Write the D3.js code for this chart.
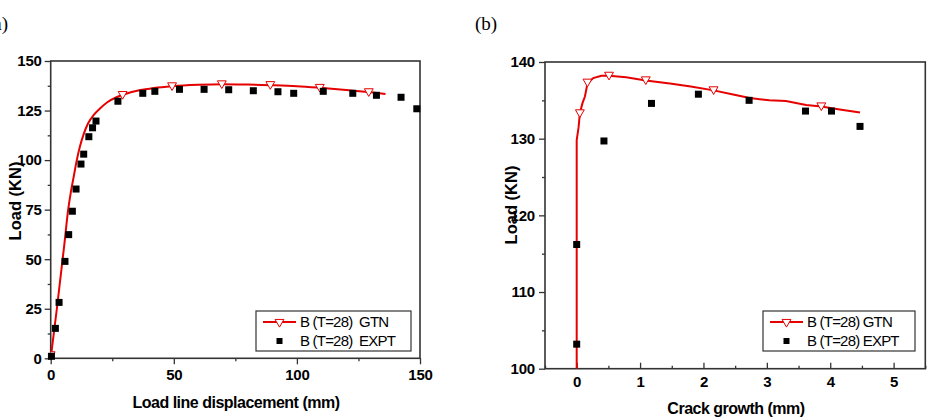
<!DOCTYPE html>
<html>
<head>
<meta charset="utf-8">
<script src="https://cdn.jsdelivr.net/npm/d3@7"></script>
<style>
body { margin: 0; background: #fff; }
svg text { font-family: "Liberation Sans", Arial, sans-serif; }
</style>
</head>
<body>
<svg id="chart" width="932" height="420"></svg>
<script>
// ---- panel (a): load vs load line displacement ----
var gtnA = [[0,0],[2.5,25],[5.5,57],[7.1,75],[8.2,84],[9.4,92],[10.6,100],[11.9,107],[13.5,113.5],
  [15.2,118.6],[17.5,122.8],[20,126],[23,129.2],[26.7,131.7],[30,133.2],[36,135.2],[42,136.4],
  [49.3,137.3],[60,138],[69.5,138.3],[80,138.1],[89.2,137.8],[100,137.3],[109.3,136.5],
  [120,135.4],[129.2,134.3],[136,133.3]];
var gtnAMarkers = [[0,1.5],[29.2,132.8],[49.3,137.2],[69.5,138.2],[89.2,137.8],[109.3,136.4],[129.2,134.2]];
var exptA = [[0.3,1],[1.9,15.1],[3.4,28.2],[5.8,48.9],[7.3,62.4],[8.8,74.2],[10.3,85.4],[12.3,98],
  [13.4,103],[15.5,111.8],[17,116.3],[18.4,119.7],[27.3,129.7],[37.4,133.7],[42.3,134.7],
  [52.3,135.7],[62.3,135.7],[72.3,135.5],[82.3,135],[92.3,134.5],[98.7,133.7],[110.7,134.7],
  [122.7,133.7],[132.3,132.7],[142.3,131.7],[148.7,125.9]];
var ticksAx = [0, 50, 100, 150];
var ticksAy = [0, 25, 50, 75, 100, 125, 150];

// ---- panel (b): load vs crack growth ----
var gtnB = [[0,100],[0,129.8],[0.03,131.5],[0.05,133.3],[0.09,134.6],[0.13,135.5],[0.17,137.2],
  [0.26,137.9],[0.39,138.2],[0.51,138.2],[0.78,138],[1.09,137.6],[1.47,137.2],[1.8,136.8],
  [2.16,136.3],[2.45,135.8],[2.73,135.3],[3.04,135],[3.3,134.9],[3.62,134.4],[3.86,134.2],
  [4.15,133.8],[4.47,133.4]];
var gtnBMarkers = [[0.05,133.3],[0.17,137.3],[0.51,138.2],[1.09,137.6],[2.16,136.3],[3.86,134.2]];
var exptB = [[0,103.2],[0,116.2],[0.43,129.7],[1.18,134.6],[1.92,135.8],[2.72,135],[3.61,133.6],
  [4.02,133.6],[4.47,131.6]];
var ticksBx = [0, 1, 2, 3, 4, 5];
var ticksBy = [100, 110, 120, 130, 140];

var svg = d3.select("#chart");
var red = "#e60000";

function panel(o) {
  var x = d3.scaleLinear().domain(o.xd).range([o.left, o.right]);
  var y = d3.scaleLinear().domain(o.yd).range([o.bottom, o.top]);
  var g = svg.append("g");

  var clipId = "clip" + o.id;
  g.append("clipPath").attr("id", clipId).append("rect")
    .attr("x", o.left).attr("y", o.top).attr("width", o.right - o.left).attr("height", o.bottom - o.top);

  // minor ticks
  g.append("g").attr("transform", "translate(0," + o.bottom + ")")
    .call(d3.axisBottom(x).tickValues(o.xminor).tickSize(o.xMinorLen).tickFormat(""))
    .call(function (s) { s.select(".domain").remove(); });
  g.append("g").attr("transform", "translate(" + o.left + ",0)")
    .call(d3.axisLeft(y).tickValues(o.yminor).tickSize(3).tickFormat(""))
    .call(function (s) { s.select(".domain").remove(); });

  // major ticks
  var ax = g.append("g").attr("transform", "translate(0," + o.bottom + ")")
    .call(d3.axisBottom(x).tickValues(o.xticks).tickFormat(d3.format("d"))
      .tickSize(o.xTickLen).tickPadding(o.xPad).tickSizeOuter(0));
  var ay = g.append("g").attr("transform", "translate(" + o.left + ",0)")
    .call(d3.axisLeft(y).tickValues(o.yticks).tickFormat(d3.format("d"))
      .tickSize(6).tickPadding(o.yPad).tickSizeOuter(0));
  [ax, ay].forEach(function (a) {
    a.selectAll("text").style("font-size", "15px").style("font-weight", "bold")
      .style("letter-spacing", "-0.2px").attr("fill", "#000");
    a.select(".domain").remove();
  });
  g.selectAll(".tick line").attr("stroke", "#333").attr("stroke-width", 1.3);

  // frame
  g.append("rect").attr("x", o.left).attr("y", o.top)
    .attr("width", o.right - o.left).attr("height", o.bottom - o.top)
    .attr("fill", "none").attr("stroke", "#333").attr("stroke-width", 1.6);

  var plot = g.append("g").attr("clip-path", "url(#" + clipId + ")");
  plot.append("path").datum(o.gtn)
    .attr("d", d3.line().x(function (d) { return x(d[0]); }).y(function (d) { return y(d[1]); }).curve(o.curve))
    .attr("fill", "none").attr("stroke", red).attr("stroke-width", 2);

  var tri = d3.symbol().type(d3.symbolTriangle).size(34);
  plot.selectAll(".tri").data(o.markers).enter().append("path")
    .attr("d", tri)
    .attr("transform", function (d) { return "translate(" + x(d[0]) + "," + (y(d[1]) - 1) + ") rotate(180)"; })
    .attr("fill", "#fff").attr("stroke", red).attr("stroke-width", 1);

  g.selectAll(".sq").data(o.expt).enter().append("rect")
    .attr("x", function (d) { return x(d[0]) - 3.5; })
    .attr("y", function (d) { return y(d[1]) - 3.5; })
    .attr("width", 7).attr("height", 7).attr("fill", "#000");

  // axis titles
  g.append("text").attr("x", o.xtx).attr("y", o.xty).attr("text-anchor", "middle")
    .style("font-size", "16px").style("font-weight", "bold").style("letter-spacing", "-0.5px")
    .text(o.xtitle);
  g.append("text").attr("transform", "translate(" + o.ytx + "," + o.yty + ") rotate(-90)")
    .attr("text-anchor", "middle")
    .style("font-size", "16.5px").style("font-weight", "bold")
    .text("Load (KN)");

  // legend
  var L = g.append("g");
  L.append("rect").attr("x", o.lx).attr("y", o.ly).attr("width", o.lw).attr("height", 40)
    .attr("fill", "#fff").attr("stroke", "#333").attr("stroke-width", 1.2);
  L.append("line").attr("x1", o.lx + 7).attr("x2", o.lx + 40).attr("y1", o.ly + 11).attr("y2", o.ly + 11)
    .attr("stroke", red).attr("stroke-width", 2);
  L.append("path").attr("d", tri)
    .attr("transform", "translate(" + (o.lx + 23.5) + "," + (o.ly + 11) + ") rotate(180)")
    .attr("fill", "#fff").attr("stroke", red).attr("stroke-width", 1);
  L.append("rect").attr("x", o.lx + 20.5).attr("y", o.ly + 27).attr("width", 6).attr("height", 6).attr("fill", "#000");
  o.labels.forEach(function (t, i) {
    L.append("text").attr("x", o.lx + 44).attr("y", o.ly + 16 + i * 19)
      .style("font-size", "15px").style("letter-spacing", "-0.8px")
      .attr("xml:space", "preserve").style("white-space", "pre")
      .text(t);
  });

  svg.append("text").attr("x", o.tagx).attr("y", 30)
    .style("font-family", "'Liberation Serif', 'Times New Roman', serif").style("font-size", "19px")
    .text(o.tag);
}

panel({
  id: "a", xd: [0, 150], yd: [0, 150], left: 50.7, right: 420, top: 61, bottom: 358.3,
  xticks: ticksAx, yticks: ticksAy, xminor: [25, 75, 125], yminor: d3.range(12.5, 150, 25),
  xTickLen: 6, xMinorLen: 3, xPad: 5, yPad: 3,
  gtn: gtnA, markers: gtnAMarkers, expt: exptA, curve: d3.curveMonotoneX,
  xtitle: "Load line displacement (mm)", xtx: 236, xty: 408, ytx: 21, yty: 201,
  lx: 256, ly: 311, lw: 155, labels: ["B (T=28)  GTN", "B (T=28)  EXPT"],
  tag: "(a)", tagx: -13
});

panel({
  id: "b", xd: [-0.5, 5.5], yd: [100, 140], left: 545, right: 925.3, top: 62, bottom: 368.7,
  xticks: ticksBx, yticks: ticksBy, xminor: d3.range(-0.5, 5.6, 1), yminor: d3.range(105, 140, 10),
  xTickLen: -6, xMinorLen: -3, xPad: 8, yPad: 4,
  gtn: gtnB, markers: gtnBMarkers, expt: exptB, curve: d3.curveLinear,
  xtitle: "Crack growth (mm)", xtx: 736, xty: 414, ytx: 517, yty: 205,
  lx: 763, ly: 311, lw: 152, labels: ["B (T=28) GTN", "B (T=28) EXPT"],
  tag: "(b)", tagx: 475
});
</script>
</body>
</html>
